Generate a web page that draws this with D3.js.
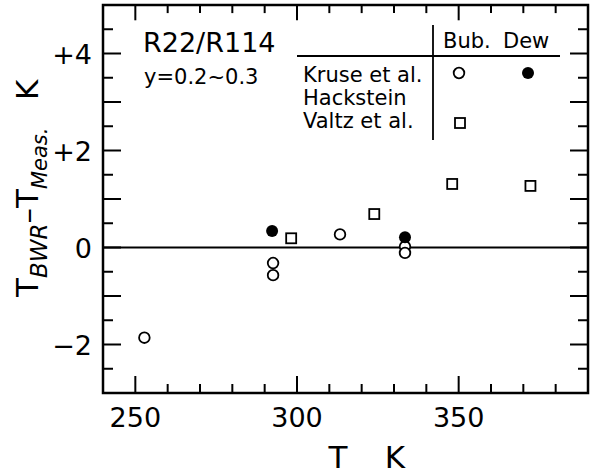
<!DOCTYPE html>
<html>
<head>
<meta charset="utf-8">
<script src="https://cdn.jsdelivr.net/npm/d3@7"></script>
<style>
  body { margin: 0; background: #fff; }
  svg { font-family: "DejaVu Sans", sans-serif; }
</style>
</head>
<body>
<div id="chart"></div>
<script>
// data (T in K, deviation in K)
const bubKruseT  = [252.8, 292.6, 292.6, 313.3, 333.4, 333.4];
const bubKruseDT = [-1.86, -0.32, -0.57, 0.27, 0.02, -0.11];
const dewKruseT  = [292.3, 333.4];
const dewKruseDT = [0.34, 0.21];
const bubValtzT  = [298.2, 323.9, 348.0, 372.2];
const bubValtzDT = [0.19, 0.69, 1.31, 1.27];

const xMajor = [250, 300, 350];
const yMajor = [-2, 0, 2, 4];
const yLabels = ["\u22122", "0", "+2", "+4"];

const legendRows = ["Kruse et al.", "Hackstein", "Valtz et al."];

const width = 592, height = 476;
const margin = {top: 5, right: 4, bottom: 83, left: 103};

const svg = d3.select("#chart").append("svg")
    .attr("width", width)
    .attr("height", height);

const x = d3.scaleLinear().domain([240, 390]).range([margin.left, width - margin.right]);
const y = d3.scaleLinear().domain([-3, 5]).range([height - margin.bottom, margin.top]);

const x0 = x.range()[0], x1 = x.range()[1];
const y0 = y.range()[0], y1 = y.range()[1];

// ticks
const xMinor = d3.range(240, 391, 10).filter(d => !xMajor.includes(d));
const yMinor = d3.range(-3, 5.01, 0.5).filter(d => !yMajor.includes(d));
const yInt = d3.range(-3, 6, 1);

const tickG = svg.append("g").attr("stroke", "#000").attr("stroke-width", 2);

function xTicks(vals, len) {
    tickG.selectAll(null).data(vals).enter().append("line")
        .attr("x1", d => x(d)).attr("x2", d => x(d))
        .attr("y1", y0).attr("y2", y0 - len);
    tickG.selectAll(null).data(vals).enter().append("line")
        .attr("x1", d => x(d)).attr("x2", d => x(d))
        .attr("y1", y1).attr("y2", y1 + len * 0.9);
}
function yTicks(vals, len) {
    tickG.selectAll(null).data(vals).enter().append("line")
        .attr("x1", x0).attr("x2", x0 + len)
        .attr("y1", d => y(d)).attr("y2", d => y(d));
    tickG.selectAll(null).data(vals).enter().append("line")
        .attr("x1", x1).attr("x2", x1 - len)
        .attr("y1", d => y(d)).attr("y2", d => y(d));
}
xTicks(xMajor, 17);
xTicks(xMinor, 9);
yTicks(yInt, 18);
yTicks(yMinor, 10);

// frame
svg.append("rect")
    .attr("x", x0).attr("y", y1)
    .attr("width", x1 - x0).attr("height", y0 - y1)
    .attr("fill", "none").attr("stroke", "#000").attr("stroke-width", 2.5);

// zero line
svg.append("line")
    .attr("x1", x0).attr("x2", x1)
    .attr("y1", y(0)).attr("y2", y(0))
    .attr("stroke", "#000").attr("stroke-width", 2);

// tick labels
svg.selectAll(".xl").data(xMajor).enter().append("text")
    .attr("x", d => x(d)).attr("y", y0 + 34)
    .attr("text-anchor", "middle")
    .attr("font-size", 27)
    .text(d => d);

svg.selectAll(".yl").data(yMajor).enter().append("text")
    .attr("x", x0 - 11).attr("y", d => y(d) + 10)
    .attr("text-anchor", "end")
    .attr("font-size", 27)
    .text((d, i) => yLabels[i]);

// axis titles
svg.append("text").attr("x", 338).attr("y", 468)
    .attr("text-anchor", "middle").attr("font-size", 31).text("T");
svg.append("text").attr("x", 395).attr("y", 468)
    .attr("text-anchor", "middle").attr("font-size", 31).text("K");

const yt = svg.append("text")
    .attr("transform", "translate(38,297) rotate(-90)")
    .attr("font-size", 31);
yt.append("tspan").text("T");
yt.append("tspan").attr("dy", 9).attr("font-size", 23).attr("font-style", "italic").text("BWR");
yt.append("tspan").attr("dy", -9).text("\u2013T");
yt.append("tspan").attr("dy", 9).attr("font-size", 21).attr("font-style", "italic").text("Meas.");
svg.append("text")
    .attr("transform", "translate(38,100) rotate(-90)")
    .attr("font-size", 31).text("K");

// title
svg.append("text").attr("x", 143).attr("y", 52).attr("font-size", 27).text("R22/R114");
svg.append("text").attr("x", 144).attr("y", 84).attr("font-size", 21).text("y=0.2~0.3");

// markers
const r = 5.3, sq = 10;
const pts = svg.append("g");
pts.selectAll(".bk").data(bubKruseT).enter().append("circle")
    .attr("cx", d => x(d)).attr("cy", (d, i) => y(bubKruseDT[i]))
    .attr("r", r).attr("fill", "#fff").attr("stroke", "#000").attr("stroke-width", 1.8);
pts.selectAll(".dk").data(dewKruseT).enter().append("circle")
    .attr("cx", d => x(d)).attr("cy", (d, i) => y(dewKruseDT[i]))
    .attr("r", 6).attr("fill", "#000");
pts.selectAll(".bv").data(bubValtzT).enter().append("rect")
    .attr("x", d => x(d) - sq / 2).attr("y", (d, i) => y(bubValtzDT[i]) - sq / 2)
    .attr("width", sq).attr("height", sq)
    .attr("fill", "#fff").attr("stroke", "#000").attr("stroke-width", 1.8);

// legend table
const lg = svg.append("g");
lg.append("line").attr("x1", 297).attr("x2", 560).attr("y1", 56).attr("y2", 56)
    .attr("stroke", "#000").attr("stroke-width", 1.8);
lg.append("line").attr("x1", 433).attr("x2", 433).attr("y1", 25).attr("y2", 140)
    .attr("stroke", "#000").attr("stroke-width", 1.8);
lg.append("text").attr("x", 443).attr("y", 48).attr("font-size", 21).text("Bub.");
lg.append("text").attr("x", 503).attr("y", 48).attr("font-size", 21).text("Dew");
lg.selectAll(".lr").data(legendRows).enter().append("text")
    .attr("x", 303).attr("y", (d, i) => 82 + i * 23)
    .attr("font-size", 21).text(d => d);
lg.append("circle").attr("cx", 459).attr("cy", 73).attr("r", r)
    .attr("fill", "#fff").attr("stroke", "#000").attr("stroke-width", 1.8);
lg.append("circle").attr("cx", 528).attr("cy", 73).attr("r", 6).attr("fill", "#000");
lg.append("rect").attr("x", 460 - sq / 2).attr("y", 123 - sq / 2)
    .attr("width", sq).attr("height", sq)
    .attr("fill", "#fff").attr("stroke", "#000").attr("stroke-width", 1.8);
</script>
</body>
</html>
